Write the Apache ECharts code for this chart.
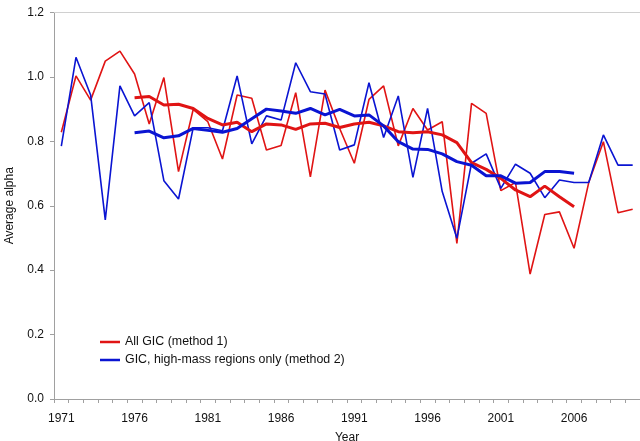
<!DOCTYPE html>
<html><head><meta charset="utf-8">
<script src="https://cdn.jsdelivr.net/npm/echarts@6/dist/echarts.min.js"></script>
<style>html,body{margin:0;padding:0;background:#fff}#c{width:640px;height:441px}</style>
</head><body><div id="c"></div>
<script>
const years = [];
for (let y = 1971; y <= 2010; y++) years.push(String(y));

const redAnnual = [0.828,1.003,0.928,1.049,1.080,1.009,0.854,0.998,0.706,0.899,
  0.861,0.745,0.944,0.934,0.773,0.787,0.951,0.690,0.959,0.840,
  0.732,0.930,0.972,0.786,0.902,0.835,0.861,0.483,0.918,0.887,
  0.647,0.672,0.388,0.573,0.581,0.468,0.672,0.799,0.578,0.589];
const blueAnnual = [0.785,1.061,0.944,0.556,0.972,0.879,0.920,0.678,0.621,0.842,
  0.842,0.833,1.003,0.792,0.879,0.866,1.044,0.954,0.947,0.773,
  0.789,0.982,0.812,0.941,0.688,0.902,0.644,0.499,0.732,0.761,
  0.654,0.729,0.701,0.625,0.680,0.672,0.672,0.820,0.726,0.726];
const redSmooth = [null,null,null,null,null,0.935,0.939,0.913,0.915,0.902,
  0.871,0.851,0.859,0.830,0.854,0.851,0.837,0.854,0.856,0.843,
  0.854,0.859,0.848,0.830,0.827,0.830,0.820,0.796,0.734,0.713,
  0.685,0.649,0.628,0.661,0.628,0.597,null,null,null,null];
const blueSmooth = [null,null,null,null,null,0.827,0.832,0.811,0.817,0.840,
  0.834,0.828,0.840,0.870,0.900,0.894,0.887,0.902,0.882,0.899,
  0.879,0.882,0.848,0.799,0.776,0.775,0.761,0.737,0.726,0.693,
  0.693,0.670,0.672,0.706,0.706,0.701,null,null,null,null];
const yTicks = [0, 0.2, 0.4, 0.6, 0.8, 1.0, 1.2];

const RED = '#e01414', BLUE = '#0a14d2';
const chart = echarts.init(document.getElementById('c'), null, {renderer: 'canvas'});
const axisGray = '#a0a0a0';
const font = 'Liberation Sans, Arial, sans-serif';
chart.setOption({
  animation: false,
  textStyle: {fontFamily: font},
  grid: {left: 54, right: 0, top: 12.5, bottom: 42, containLabel: false, outerBoundsMode: 'none'},
  legend: {
    data: ['All GIC (method 1)', 'GIC, high-mass regions only (method 2)'],
    orient: 'vertical', left: 100, top: 336, itemGap: 6, padding: 0,
    icon: 'rect', itemWidth: 20, itemHeight: 2.5,
    textStyle: {fontSize: 12.4, color: '#111', fontFamily: font}
  },
  xAxis: [{
    type: 'category', data: years, boundaryGap: true,
    name: 'Year', nameLocation: 'middle', nameGap: 33,
    nameTextStyle: {fontSize: 12, color: '#111'},
    axisLine: {lineStyle: {color: axisGray}},
    axisTick: {show: true, interval: 0, length: 4, lineStyle: {color: axisGray}},
    axisLabel: {interval: 4, fontSize: 12, color: '#111', margin: 14},
    splitLine: {show: false}
  }, {
    type: 'category', data: years, position: 'top',
    axisLine: {lineStyle: {color: '#d0d0d0'}},
    axisTick: {show: false}, axisLabel: {show: false}
  }],
  yAxis: {
    type: 'value', min: 0, max: 1.2, interval: 0.2,
    name: 'Average alpha', nameLocation: 'middle', nameGap: 38,
    nameTextStyle: {fontSize: 12, color: '#111'},
    axisLine: {show: true, lineStyle: {color: axisGray}},
    axisTick: {show: true, length: 4, lineStyle: {color: axisGray}},
    axisLabel: {fontSize: 12, color: '#111', margin: 10, formatter: v => v.toFixed(1)},
    splitLine: {show: false}
  },
  series: [
    {name: 'All GIC (method 1)', type: 'line', data: redAnnual, symbol: 'none',
     lineStyle: {color: RED, width: 1.6}, itemStyle: {color: RED}},
    {name: 'GIC, high-mass regions only (method 2)', type: 'line', data: blueAnnual, symbol: 'none',
     lineStyle: {color: BLUE, width: 1.6}, itemStyle: {color: BLUE}},
    {name: 'red smooth', type: 'line', data: redSmooth, symbol: 'none',
     lineStyle: {color: RED, width: 3}, itemStyle: {color: RED}},
    {name: 'blue smooth', type: 'line', data: blueSmooth, symbol: 'none',
     lineStyle: {color: BLUE, width: 3}, itemStyle: {color: BLUE}}
  ]
});
</script></body></html>
